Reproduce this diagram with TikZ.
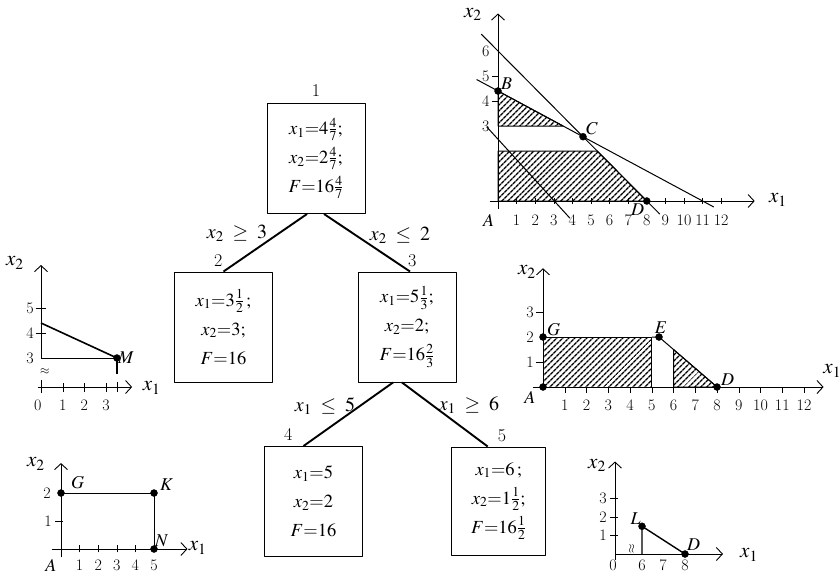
\documentclass[tikz,border=0pt]{standalone}
\usepackage{amsmath,amssymb}
\usepackage{mathptmx}
\usetikzlibrary{arrows.meta, patterns.meta, calc}

\tikzset{
  vbox/.style={draw, line width=1pt, minimum width=98pt, minimum height=110pt,
    align=center, inner sep=2pt, font=\fontsize{18.5}{29}\selectfont},
  branch/.style={line width=1.9pt},
  cond/.style={font=\fontsize{20}{22}\selectfont},
  num/.style={font=\fontsize{18}{19}\selectfont, inner sep=1pt},
  axis/.style={line width=0.9pt, -{Straight Barb[length=6pt,width=13pt,line width=0.9pt]}},
  hatch/.style={draw, line width=1pt, pattern={Lines[angle=45,distance=4pt,line width=1.5pt]}},
  tlab/.style={font=\fontsize{16}{17}\selectfont, inner sep=1pt},
  plab/.style={font=\fontsize{18}{19}\selectfont, inner sep=1pt},
  alab/.style={font=\fontsize{21}{22}\selectfont, inner sep=1pt},
}

\begin{document}
\begin{tikzpicture}[x=1pt, y=-1pt, line join=round]
    \useasboundingbox (0,0) rectangle (840,574);

    % branch and bound tree
    \node[vbox] (n1) at (316,158.5) {$x_1{=}4\frac{4}{7};$\\$x_2{=}2\frac{4}{7};$\\$F{=}16\frac{4}{7}$};
    \node[vbox] (n2) at (223.5,327) {$x_1{=}3\frac{1}{2}\,;$\\$x_2{=}3;$\\$F{=}16$};
    \node[vbox] (n3) at (407,327) {$x_1{=}5\frac{1}{3};$\\$x_2{=}2;$\\$F{=}16\frac{2}{3}$};
    \node[vbox] (n4) at (313.5,501.5) {$x_1{=}5$\\$x_2{=}2$\\$F{=}16$};
    \node[vbox, minimum width=94pt, minimum height=108pt] (n5) at (498.7,501) {$x_1{=}6\,;$\\$x_2{=}1\frac{1}{2};$\\$F{=}16\frac{1}{2}$};

    \node[num, anchor=south] (k1) at ([yshift=5pt]n1.north) {1};
    \node[num, anchor=south east] (k2) at ([yshift=4pt]n2.north) {2};
    \node[num, anchor=south west] (k3) at ([yshift=4pt]n3.north) {3};
    \node[num, anchor=south east] (k4) at ([xshift=-20pt, yshift=4pt]n4.north) {4};
    \node[num, anchor=south west] (k5) at ([xshift=-2pt, yshift=4pt]n5.north) {5};

    \draw[branch] ([xshift=-9pt]n1.south) -- (n2.north);
    \draw[branch] ([xshift=8pt]n1.south) -- ([xshift=3pt]n3.north);
    \draw[branch] ([xshift=-14pt]n3.south) -- ([xshift=-10pt]n4.north);
    \draw[branch] ([xshift=-5pt]n3.south) -- ([xshift=-11pt]n5.north);

    \node[cond] (c12) at (237,233) {$x_2\;\geq\;3$};
    \node[cond] (c13) at (400,235) {$x_2\;\leq\;2$};
    \node[cond] (c34) at (325,406) {$x_1\;\leq\;5$};
    \node[cond] (c35) at (469,405) {$x_1\;\geq\;6$};

    % top right: whole problem
    \begin{scope}[shift={(498,201)}, x=18.6pt, y=25pt]
        \draw[hatch] (0,3) -- (0,4.4) -- (3.5,3) -- cycle;
        \draw[hatch] (0,0) -- (0,2) -- (16/3,2) -- (8,0) -- cycle;
        \draw[axis] (-0.45,0) -- (13.8,0);
        \draw[axis] (0,-0.3) -- (0,7.5);
        \foreach \i in {1,...,12} \draw (\i,-0.1) -- (\i,0.12);
        \foreach \j in {4,5} \draw (-0.3,\j) -- (0,\j);
        \foreach \i in {1,...,12} \node[tlab] (ta\i) at (\i,-0.76) {\i};
        \foreach \j in {3,...,6} \node[tlab] (tb\j) at (-0.65,\j) {\j};

        \draw[line width=1pt] (-0.9,6.675) -- (8.7,-0.525);
        \draw[line width=1pt] (-1.15,4.86) -- (11.6,-0.24);
        \draw[line width=1pt] (-0.61,2.97) -- (3.87,-0.69);

        \coordinate (B) at (0,4.4);
        \coordinate (C) at (32/7,18/7);
        \coordinate (D) at (8,0);
        \filldraw[black] (B) circle (3.5pt) node[plab, anchor=south west, xshift=2pt] (lB) {$B$};
        \filldraw[black] (C) circle (3.5pt) node[plab, anchor=south west, xshift=2pt, yshift=1pt] (lC) {$C$};
        \filldraw[black] (D) circle (3.5pt);
        \node[plab, inner sep=0pt] (lD) at (7.5,-0.36) {$D$};
        \node[plab] (lA) at (-0.5,-0.76) {$A$};
        \node[alab] (xa2) at (-1.35,7.45) {$x_2$};
        \node[alab] (xa1) at (15.05,0.04) {$x_1$};
    \end{scope}

    % middle right: branch x2 <= 2
    \begin{scope}[shift={(543,387)}, x=21.75pt, y=25pt]
        \draw[hatch] (0,0) rectangle (5,2);
        \draw[hatch] (6,0) -- (6,1.5) -- (8,0) -- cycle;
        \draw[line width=1pt] (5,2) -- (16/3,2) -- (8,0);
        \draw[axis] (-0.45,0) -- (12.9,0);
        \draw[axis] (0,-0.1) -- (0,4.75);
        \foreach \i in {1,...,12} \draw (\i,0) -- (\i,-0.25);
        \foreach \j in {1,3} \draw (-0.3,\j) -- (0,\j);
        \foreach \i in {1,...,12} \node[tlab] (tc\i) at (\i,-0.72) {\i};
        \foreach \j in {1,2,3} \node[tlab] (td\j) at (-0.6,\j) {\j};

        \coordinate (A) at (0,0);
        \coordinate (G) at (0,2);
        \coordinate (E) at (16/3,2);
        \coordinate (D) at (8,0);
        \filldraw[black] (A) circle (3.5pt);
        \filldraw[black] (G) circle (3.5pt) node[plab, anchor=south west, xshift=3pt] (lG) {$G$};
        \filldraw[black] (E) circle (3.5pt) node[plab, anchor=south, xshift=2pt, yshift=2pt] (lE) {$E$};
        \filldraw[black] (D) circle (3.5pt) node[plab, anchor=south west, xshift=3pt] (lD) {$D$};
        \node[plab] (lA) at (-0.6,-0.42) {$A$};
        \node[alab] (xb2) at (-0.74,4.6) {$x_2$};
        \node[alab] (xb1) at (13.3,0.64) {$x_1$};
    \end{scope}

    % middle left: branch x2 >= 3
    \begin{scope}[shift={(41,387)}, x=21.7pt, y=1pt]
        \draw[axis] (-0.15,0) -- (4.2,0);
        \draw[axis] (0,29) -- (0,122);
        \draw (0,-6) -- (0,7);
        \foreach \i in {1,2,3} \draw (\i,-5) -- (\i,4);
        \foreach \j in {54,79} \draw (-0.25,\j) -- (0.25,\j);
        \draw (3.5,-5) -- (3.5,5);
        \node[font=\fontsize{12}{12}\selectfont] (brk1) at (0.18,15) {$\approx$};

        \coordinate (M) at (3.5,29);
        \draw[line width=1pt] (0,29) -- (M);
        \draw[line width=1.6pt] (0,64) -- (M);
        \draw[line width=1.6pt] (M) -- (3.5,13);
        \filldraw[black] (M) circle (3.5pt) node[plab, anchor=west] (lM) {$M$};

        \node[tlab] (te0) at (-0.15,-18) {0};
        \foreach \i in {1,2,3} \node[tlab] (te\i) at (\i,-18) {\i};
        \node[tlab] (tf3) at (-0.5,29) {3};
        \node[tlab] (tf4) at (-0.5,54) {4};
        \node[tlab] (tf5) at (-0.5,79) {5};
        \node[alab] (xc2) at (-1.2,124) {$x_2$};
        \node[alab] (xc1) at (5.1,-1) {$x_1$};
    \end{scope}

    % bottom left: branch x1 <= 5
    \begin{scope}[shift={(61,549)}, x=18.6pt, y=28pt]
        \draw[axis] (-0.5,0) -- (6.8,0);
        \draw[axis] (0,-0.3) -- (0,3.07);
        \foreach \i in {1,...,4} \draw (\i,-0.12) -- (\i,0.15);
        \draw (-0.3,1) -- (0.1,1);

        \coordinate (G) at (0,2);
        \coordinate (K) at (5,2);
        \coordinate (N) at (5,0);
        \draw[line width=1pt] (G) -- (K) -- (N);
        \filldraw[black] (G) circle (3.5pt) node[plab, anchor=south west, xshift=9pt, yshift=3pt] (lG) {$G$};
        \filldraw[black] (K) circle (3.5pt) node[plab, anchor=south west, xshift=5pt, yshift=1pt] (lK) {$K$};
        \filldraw[black] (N) circle (3.5pt) node[plab, anchor=south west, xshift=0pt, yshift=1pt] (lN) {$N$};

        \foreach \i in {1,...,5} \node[tlab] (tg\i) at (\i,-0.58) {\i};
        \node[tlab] (th1) at (-0.7,1) {1};
        \node[tlab] (th2) at (-0.75,2) {2};
        \node[plab] (lA) at (-0.55,-0.58) {$A$};
        \node[alab] (xd2) at (-1.35,3.04) {$x_2$};
        \node[alab] (xd1) at (7.35,0.04) {$x_1$};
    \end{scope}

    % bottom right: branch x1 >= 6
    \begin{scope}[shift={(615,554)}, x=1pt, y=18.5pt]
        \draw[axis] (0,0) -- (108,0);
        \draw[axis] (0,-0.3) -- (0,5);
        \foreach \j in {1,2,3} \draw (-5,\j) -- (3,\j);
        \node[rotate=90, font=\fontsize{12}{12}\selectfont] (brk2) at (17,0.27) {$\approx$};

        \coordinate (L) at (27,1.5);
        \coordinate (D) at (70,0);
        \draw[line width=1.4pt] (27,0) -- (L) -- (D);
        \filldraw[black] (L) circle (3.5pt) node[plab, anchor=south east, xshift=0pt, yshift=1pt] (lL) {$L$};
        \filldraw[black] (D) circle (3.5pt) node[plab, anchor=south west, xshift=1pt, yshift=2pt] (lD) {$D$};

        \node[tlab] (ti0) at (-2,-0.62) {0};
        \node[tlab] (ti6) at (27,-0.62) {6};
        \node[tlab] (ti7) at (48,-0.62) {7};
        \node[tlab] (ti8) at (70,-0.62) {8};
        \foreach \j in {1,2,3} \node[tlab] (tj\j) at (-12,\j) {\j};
        \node[alab] (xe2) at (-18,4.8) {$x_2$};
        \node[alab] (xe1) at (134,-0.05) {$x_1$};
    \end{scope}
\end{tikzpicture}
\end{document}
